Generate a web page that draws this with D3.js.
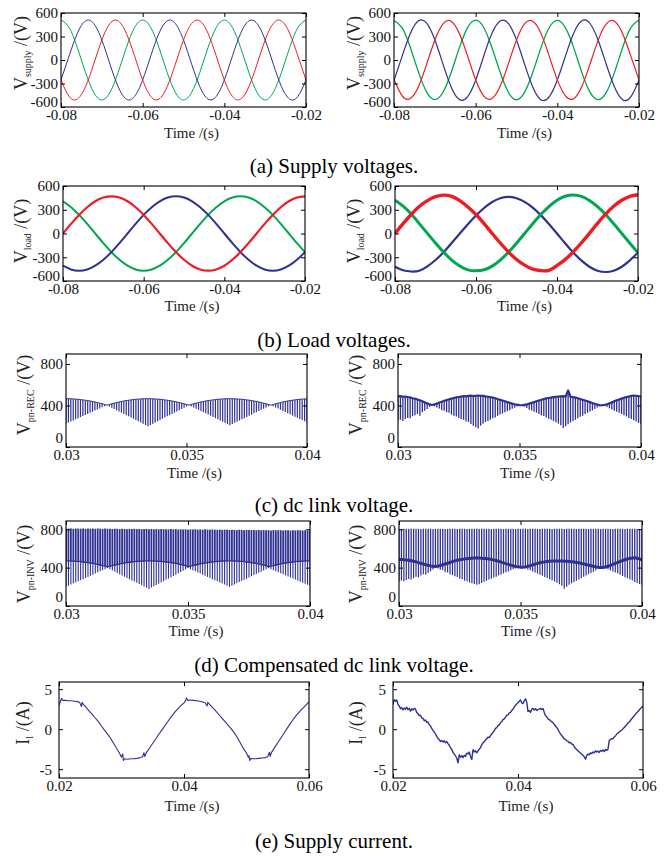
<!DOCTYPE html>
<html><head><meta charset="utf-8">
<script src="https://cdn.jsdelivr.net/npm/d3@7"></script>
<style>body{margin:0;background:#fff} text{font-family:"Liberation Serif","Times New Roman",Times,serif}</style>
</head><body>
<script>
// ---------------- DATA ----------------
// (a) supply voltages, sampled every 2 ms
const tGrid = [-0.080,-0.078,-0.076,-0.074,-0.072,-0.070,-0.068,-0.066,-0.064,-0.062,-0.060,-0.058,-0.056,-0.054,-0.052,-0.050,-0.048,-0.046,-0.044,-0.042,-0.040,-0.038,-0.036,-0.034,-0.032,-0.030,-0.028,-0.026,-0.024,-0.022,-0.020];
const supplyGreenL = [510,413,158,-158,-413,-510,-413,-158,158,413, 510,413,158,-158,-413,-510,-413,-158,158,413, 510,413,158,-158,-413,-510,-413,-158,158,413, 510];
const supplyBlueL  = [-255,54,341,499,466,255,-54,-341,-499,-466, -255,54,341,499,466,255,-54,-341,-499,-466, -255,54,341,499,466,255,-54,-341,-499,-466, -255];
const supplyRedL   = [-255,-466,-499,-341,-54,255,466,499,341,54, -255,-466,-499,-341,-54,255,466,499,341,54, -255,-466,-499,-341,-54,255,466,499,341,54, -255];
const supplyGreenR = [505,410,160,-155,-410,-505,-412,-160,155,410, 508,412,157,-157,-412,-508,-410,-157,158,412, 505,410,158,-158,-410,-506,-413,-158,160,413, 510];
const supplyBlueR  = [-260,50,338,500,470,258,-52,-345,-505,-470, -258,54,340,497,468,255,-56,-347,-508,-472, -256,52,341,500,466,252,-57,-344,-506,-470, -258];
const supplyRedR   = [-250,-458,-492,-338,-52,252,462,495,338,54, -252,-460,-490,-336,-50,255,465,496,340,52, -254,-458,-494,-338,-53,254,462,494,336,50, -252];

// (b) load voltages
const loadRedL   = [0,122,235,332,407,454,470,454,407,332,235,122,0,-122,-235,-332,-407,-454,-470,-454,-407,-332,-235,-122,0,122,235,332,407,454,470];
const loadBlueL  = [-407,-454,-470,-454,-407,-332,-235,-122,0,122,235,332,407,454,470,454,407,332,235,122,0,-122,-235,-332,-407,-454,-470,-454,-407,-332,-235];
const loadGreenL = [407,332,235,122,0,-122,-235,-332,-407,-454,-470,-454,-407,-332,-235,-122,0,122,235,332,407,454,470,454,407,332,235,122,0,-122,-235];
const loadRedR   = [0,125,240,340,415,465,485,468,415,335,240,125,0,-120,-232,-328,-400,-450,-468,-466,-405,-330,-232,-120,2,128,245,345,420,470,490];
const loadBlueR  = [-420,-465,-480,-470,-415,-335,-236,-120,0,118,228,322,398,445,462,446,400,328,232,120,0,-124,-240,-340,-420,-470,-486,-470,-420,-340,-240];
const loadGreenR = [420,345,245,125,2,-120,-235,-335,-410,-460,-472,-458,-412,-336,-236,-122,0,124,240,340,420,470,485,468,418,340,240,124,0,-124,-245];

// (c),(d) switching instants of the dc link pulses
const dcTimes = [0.0300,0.0301,0.0302,0.0303,0.0304,0.0305,0.0306,0.0307,0.0308,0.0309,
0.0310,0.0311,0.0312,0.0313,0.0314,0.0315,0.0316,0.0317,0.0318,0.0319,
0.0320,0.0321,0.0322,0.0323,0.0324,0.0325,0.0326,0.0327,0.0328,0.0329,
0.0330,0.0331,0.0332,0.0333,0.0334,0.0335,0.0336,0.0337,0.0338,0.0339,
0.0340,0.0341,0.0342,0.0343,0.0344,0.0345,0.0346,0.0347,0.0348,0.0349,
0.0350,0.0351,0.0352,0.0353,0.0354,0.0355,0.0356,0.0357,0.0358,0.0359,
0.0360,0.0361,0.0362,0.0363,0.0364,0.0365,0.0366,0.0367,0.0368,0.0369,
0.0370,0.0371,0.0372,0.0373,0.0374,0.0375,0.0376,0.0377,0.0378,0.0379,
0.0380,0.0381,0.0382,0.0383,0.0384,0.0385,0.0386,0.0387,0.0388,0.0389,
0.0390,0.0391,0.0392,0.0393,0.0394,0.0395,0.0396,0.0397,0.0398,0.0399,0.0400];

// (c) dc link voltage (pulse top / bottom)
const recTopL = [465,465,464,463,461,460,457,454,451,447,443,439,434,428,422,416,410,403,
410,416,422,428,434,439,443,447,451,454,457,460,461,463,464,465,465,
465,464,463,461,460,457,454,451,447,443,439,434,428,422,416,410,403,
410,416,422,428,434,439,443,447,451,454,457,460,461,463,464,465,465,
465,464,463,461,460,457,454,451,447,443,439,434,428,422,416,410,403,
410,416,422,428,434,439,443,447,451,454,457,460,461,463,464];
const recBotL = [225,235,246,256,267,277,288,298,309,319,330,340,351,361,372,382,393,403,
391,379,367,355,343,331,319,307,296,284,272,260,248,236,224,212,200,
212,224,236,248,260,272,284,296,307,319,331,343,355,367,379,391,403,
392,380,369,358,346,335,324,312,301,289,278,267,255,244,233,221,210,
221,233,244,255,267,278,289,301,312,324,335,346,358,369,380,392,403,
392,381,370,359,348,337,326,315,303,292,281,270,259,248,237];
const recTopR = [488,490,484,486,480,478,470,466,458,450,440,430,420,412,
405,
410,418,428,436,445,452,460,466,472,478,482,486,490,488,492,495,490,494,496,
492,494,488,484,480,476,470,462,455,448,440,432,425,418,412,408,404,
402,
406,410,418,425,432,440,448,455,462,468,472,476,480,484,486,488,490,486,
545,484,480,476,470,462,455,448,440,432,424,416,410,404,402,
406,412,420,430,440,450,458,466,474,480,486,492,496,494,490,488];
const recBotR = [255,262,250,270,280,276,296,305,318,300,335,350,365,385,
400,
392,380,372,355,350,335,330,312,300,295,280,268,262,245,240,222,205,190,178,
205,225,240,250,262,278,285,300,312,322,335,345,355,368,378,390,398,
402,
388,375,360,352,340,330,318,305,298,285,272,262,250,238,225,210,182,200,
220,236,250,262,278,292,302,318,330,342,352,365,380,392,400,
395,385,372,362,350,340,330,318,305,295,280,270,258,245,232,222];

// (d) compensated dc link voltage (pulse top / rectified level / pulse bottom)
const invTopL = [808,806,809,805,808,807,806,809,804,808,806,807,805,808,806,804,807,805,806,803,806,
804,801,805,803,800,804,802,805,801,803,800,802,804,801,803,800,802,799,803,801,
800,798,802,799,801,797,800,798,801,796,799,797,800,796,798,795,799,797,794,798,
796,794,797,793,796,795,792,796,794,791,795,793,790,794,792,791,793,790,792,789,
792,790,791,788,792,789,791,790,788,791,789,787,790,788,791,789,787,790,788,790];
const invMidL = [470,470,469,468,466,465,462,459,456,452,448,444,439,433,427,421,415,408,
415,421,427,433,439,444,448,452,456,459,462,465,466,468,469,470,470,
470,469,468,466,465,462,459,456,452,448,444,439,433,427,421,408,
415,421,427,433,439,444,448,452,456,459,462,465,466,468,469,470,470,
470,469,468,466,465,462,459,456,452,448,444,439,433,427,421,408,
415,421,427,433,439,444,448,452,456,459,462,465,466,468,469,470,470];
const invBotL = [200,211,223,234,246,257,269,280,292,303,315,326,338,349,361,372,384,395,
382,369,357,344,331,318,306,293,280,267,255,242,229,216,204,191,178,
192,205,219,232,246,259,273,286,300,314,327,341,354,368,381,395,
384,372,361,349,338,326,315,303,292,280,269,257,246,234,223,211,200,
212,224,237,249,261,273,285,298,310,322,334,346,358,371,383,395,
384,373,362,351,341,330,319,308,297,286,275,264,253,243,232,221,210];
const invTopR = [806,804,805,806,803,805,806,804,805,803,806,805,804,806,803,805,804,806,805,803,804,806,805,804,803,
805,806,804,803,805,806,804,805,803,806,804,805,806,803,804,805,806,804,803,805,806,804,805,803,806,
804,805,806,803,804,805,806,804,803,805,806,804,805,803,806,804,805,806,803,804,805,806,804,803,805,
806,804,805,803,806,804,805,806,803,804,805,806,804,803,805,806,804,805,803,806,804,805,806,803,804,805];
const invMidR = [484,486,482,480,476,472,466,460,452,445,438,430,424,418,414,412,
416,422,430,438,446,454,462,470,476,482,486,490,494,496,498,500,502,500,
498,496,494,490,486,480,474,466,458,450,442,434,426,418,412,408,405,404,
408,414,420,428,436,444,450,456,460,464,466,468,470,470,468,468,466,466,
464,462,458,454,450,444,438,432,426,420,414,408,404,402,402,
406,414,424,434,444,454,464,474,482,490,496,500,502,498,490,480];
const invBotR = [256,265,258,270,282,276,290,305,298,318,330,325,345,362,380,405,
392,378,372,352,348,330,322,310,302,285,278,262,258,245,238,230,222,228,
240,252,262,275,285,298,305,318,328,340,352,360,372,382,390,398,404,404,
392,380,372,360,350,338,325,315,302,292,280,268,255,242,228,212,180,200,
222,236,250,262,276,290,305,318,332,345,358,370,385,396,402,
392,382,370,360,348,338,325,312,300,290,278,265,250,240,228,222];

// (e) supply current
const currentL = [[0.0200,3.0],[0.0202,3.4],[0.0204,3.85],[0.0206,3.6],[0.0210,3.6],[0.0215,3.55],[0.0220,3.55],[0.0225,3.5],[0.0230,3.45],[0.0233,3.35],
[0.0235,3.0],[0.0236,2.85],[0.0237,3.35],[0.0239,3.1],[0.0243,2.75],[0.0248,2.3],[0.0253,1.85],[0.0258,1.4],[0.0263,0.95],[0.0268,0.4],
[0.0273,-0.15],[0.0278,-0.65],[0.0283,-1.2],[0.0288,-1.85],[0.0293,-2.5],[0.0297,-3.05],[0.0300,-3.5],[0.0301,-3.25],[0.0302,-3.1],[0.0303,-3.9],
[0.0305,-3.7],[0.0310,-3.75],[0.0315,-3.7],[0.0320,-3.7],[0.0325,-3.65],[0.0330,-3.55],[0.0334,-3.45],[0.0335,-3.1],[0.0336,-2.95],[0.0337,-3.4],
[0.0340,-2.9],[0.0345,-2.35],[0.0350,-1.75],[0.0355,-1.2],[0.0360,-0.6],[0.0365,-0.05],[0.0370,0.5],[0.0375,1.05],[0.0380,1.6],[0.0385,2.1],
[0.0390,2.55],[0.0395,2.95],[0.0400,3.3],[0.0402,3.5],[0.0404,3.9],[0.0406,3.6],[0.0410,3.65],[0.0415,3.6],[0.0420,3.55],[0.0425,3.5],
[0.0430,3.4],[0.0434,3.3],[0.0436,3.0],[0.0437,2.9],[0.0438,3.35],[0.0441,3.1],[0.0445,2.75],[0.0450,2.35],[0.0455,1.9],[0.0460,1.45],
[0.0465,1.0],[0.0470,0.55],[0.0475,0.1],[0.0480,-0.4],[0.0485,-1.0],[0.0490,-1.7],[0.0495,-2.4],[0.0500,-3.0],[0.0503,-3.5],[0.0504,-3.3],
[0.0505,-3.9],[0.0507,-3.65],[0.0510,-3.7],[0.0515,-3.7],[0.0520,-3.65],[0.0525,-3.6],[0.0530,-3.55],[0.0534,-3.45],[0.0536,-3.0],[0.0537,-2.9],
[0.0538,-3.4],[0.0540,-2.9],[0.0545,-2.3],[0.0550,-1.7],[0.0555,-1.1],[0.0560,-0.5],[0.0565,0.1],[0.0570,0.7],[0.0575,1.25],[0.0580,1.75],
[0.0585,2.2],[0.0590,2.6],[0.0595,3.0],[0.0600,3.4]];
const currentTimesR = [0.0200,0.0202,0.0204,0.0206,0.0208,0.0210,0.0212,0.0214,0.0216,0.0218,
0.0220,0.0222,0.0224,0.0226,0.0228,0.0230,0.0232,0.0234,0.0236,0.0238,
0.0240,0.0242,0.0244,0.0246,0.0248,0.0250,0.0252,0.0254,0.0256,0.0258,
0.0260,0.0262,0.0264,0.0266,0.0268,0.0270,0.0272,0.0274,0.0276,0.0278,
0.0280,0.0282,0.0284,0.0286,0.0288,0.0290,0.0292,0.0294,0.0296,0.0298,
0.0300,0.0302,0.0304,0.0306,0.0308,0.0310,0.0312,0.0314,0.0316,0.0318,
0.0320,0.0322,0.0324,0.0326,0.0328,0.0330,0.0332,0.0334,0.0336,0.0338,
0.0340,0.0342,0.0344,0.0346,0.0348,0.0350,0.0352,0.0354,0.0356,0.0358,
0.0360,0.0362,0.0364,0.0366,0.0368,0.0370,0.0372,0.0374,0.0376,0.0378,
0.0380,0.0382,0.0384,0.0386,0.0388,0.0390,0.0392,0.0394,0.0396,0.0398,
0.0400,0.0402,0.0404,0.0406,0.0408,0.0410,0.0412,0.0414,0.0416,0.0418,
0.0420,0.0422,0.0424,0.0426,0.0428,0.0430,0.0432,0.0434,0.0436,0.0438,
0.0440,0.0442,0.0444,0.0446,0.0448,0.0450,0.0452,0.0454,0.0456,0.0458,
0.0460,0.0462,0.0464,0.0466,0.0468,0.0470,0.0472,0.0474,0.0476,0.0478,
0.0480,0.0482,0.0484,0.0486,0.0488,0.0490,0.0492,0.0494,0.0496,0.0498,
0.0500,0.0502,0.0504,0.0506,0.0508,0.0510,0.0512,0.0514,0.0516,0.0518,
0.0520,0.0522,0.0524,0.0526,0.0528,0.0530,0.0532,0.0534,0.0536,0.0538,
0.0540,0.0542,0.0544,0.0546,0.0548,0.0550,0.0552,0.0554,0.0556,0.0558,
0.0560,0.0562,0.0564,0.0566,0.0568,0.0570,0.0572,0.0574,0.0576,0.0578,
0.0580,0.0582,0.0584,0.0586,0.0588,0.0590,0.0592,0.0594,0.0596,0.0598,0.0600];
const currentR = [3.1,3.7,3.5,3.65,3.1,2.9,2.55,2.7,2.4,2.65,
2.5,2.75,2.45,2.6,2.25,2.55,2.4,2.6,2.5,2.1,
1.95,1.7,1.75,1.4,1.35,1.05,1.15,0.85,0.9,0.55,
0.4,0.1,-0.15,-0.35,-0.6,-0.9,-1.15,-1.3,-1.55,-1.4,
-1.6,-1.45,-1.7,-1.55,-1.8,-2.0,-2.3,-2.55,-2.9,-3.1,
-3.35,-3.6,-4.2,-3.2,-3.5,-3.3,-3.55,-3.25,-3.4,-3.0,
-3.1,-2.85,-3.4,-3.8,-2.55,-2.85,-2.7,-2.95,-2.7,-2.5,
-2.3,-1.95,-1.7,-1.55,-1.35,-1.2,-1.0,-1.05,-0.8,-0.6,
-0.4,-0.2,0.1,0.2,0.45,0.55,0.8,0.95,1.2,1.3,
1.5,1.75,1.8,2.05,2.1,2.35,2.5,2.75,3.0,3.15,
3.3,3.5,3.65,3.3,3.2,3.55,3.8,3.4,2.2,2.35,
2.1,2.5,2.6,2.4,2.55,2.35,2.45,2.5,2.6,2.45,
2.6,2.1,1.7,1.55,1.3,1.2,1.05,0.95,0.8,0.6,
0.4,0.2,0.0,-0.35,-0.6,-0.8,-1.0,-1.2,-1.3,-1.45,
-1.5,-1.7,-1.65,-1.85,-1.9,-2.2,-2.4,-2.55,-2.7,-2.85,
-3.0,-3.1,-3.3,-3.45,-3.75,-3.3,-3.1,-3.2,-2.95,-3.05,
-2.85,-2.95,-2.7,-2.85,-2.75,-2.9,-2.65,-2.75,-2.6,-2.8,
-2.55,-2.65,-2.5,-1.4,-1.3,-1.15,-1.2,-0.95,-0.85,-0.6,
-0.5,-0.35,-0.2,-0.1,0.05,0.2,0.4,0.55,0.8,0.9,
1.1,1.3,1.5,1.65,1.9,2.05,2.2,2.4,2.6,2.75,2.9];

// tick values
const ticksXab = [-0.08,-0.06,-0.04,-0.02];
const ticksYab = [-600,-300,0,300,600];
const ticksXcd = [0.03,0.035,0.04];
const ticksYcd = [0,400,800];
const ticksXe = [0.02,0.04,0.06];
const ticksYe = [-5,0,5];
const captions = ["(a) Supply voltages.","(b) Load voltages.","(c) dc link voltage.","(d) Compensated dc link voltage.","(e) Supply current."];

// ---------------- DRAWING ----------------
const F = '"Liberation Serif","Times New Roman",Times,serif';
const BLUE = '#2e3192', RED = '#ed1c24', GREEN = '#00a651';
const svg = d3.select('body').append('svg').attr('width',672).attr('height',857).style('display','block');

let clipN = 0;
function makePanel(o){
  const x = d3.scaleLinear().domain(o.xd).range([o.x0,o.x1]);
  const y = d3.scaleLinear().domain(o.yd).range([o.y1,o.y0]);
  const id = 'clip'+(clipN++);
  svg.append('clipPath').attr('id',id).append('rect')
    .attr('x',o.x0).attr('y',o.y0).attr('width',o.x1-o.x0).attr('height',o.y1-o.y0);
  const g = svg.append('g').attr('clip-path',`url(#${id})`);
  return {x,y,g,o};
}
function styleAxis(a, keepText){
  a.select('.domain').remove();
  a.attr('font-family',F).attr('font-size',15);
  a.selectAll('line').attr('stroke','#000');
  if (keepText) a.selectAll('text').attr('fill','#111');
  else a.selectAll('text').remove();
  return a;
}
function finishPanel(p){
  const {x,y,o} = p;
  const fmt = d => String(d);
  styleAxis(svg.append('g').attr('transform',`translate(0,${o.y1})`)
    .call(d3.axisBottom(x).tickValues(o.xt).tickFormat(fmt).tickSizeInner(-4).tickSizeOuter(0).tickPadding(2.5)), true);
  styleAxis(svg.append('g').attr('transform',`translate(0,${o.y0})`)
    .call(d3.axisTop(x).tickValues(o.xt).tickSizeInner(-4).tickSizeOuter(0)), false);
  const left = styleAxis(svg.append('g').attr('transform',`translate(${o.x0},0)`)
    .call(d3.axisLeft(y).tickValues(o.yt).tickFormat(fmt).tickSizeInner(-4).tickSizeOuter(0).tickPadding(o.ypad)), true);
  // lowest label sits on the corner: lift it a little so it does not collide with the time labels
  if (o.liftLow) left.selectAll('.tick').filter(d => d === o.yt[0]).select('text').attr('y', -o.liftLow);
  styleAxis(svg.append('g').attr('transform',`translate(${o.x1},0)`)
    .call(d3.axisRight(y).tickValues(o.yt).tickSizeInner(-4).tickSizeOuter(0)), false);
  svg.append('rect').attr('x',o.x0).attr('y',o.y0).attr('width',o.x1-o.x0).attr('height',o.y1-o.y0)
    .attr('fill','none').attr('stroke','#000').attr('stroke-width',1.1);
  svg.append('text').attr('x',(o.x0+o.x1)/2+8).attr('y',o.xly).attr('text-anchor','middle')
    .attr('font-family',F).attr('font-size',15).attr('fill','#222').text('Time /(s)');
  const t = svg.append('text').attr('transform',`translate(${o.ylx},${o.yly}) rotate(-90)`)
    .attr('text-anchor','middle').attr('font-family',F).attr('font-size',18).attr('fill','#222');
  t.append('tspan').text(o.ymain);
  t.append('tspan').attr('font-size',10).attr('dy',4).text(o.ysub);
  t.append('tspan').attr('dy',-4).text(' /('+o.yunit+')');
}
function curve(p, ts, vs, color, w, c){
  const line = d3.line().x((d,i)=>p.x(ts[i])).y(d=>p.y(d)).curve(c || d3.curveNatural);
  p.g.append('path').attr('d',line(vs)).attr('fill','none').attr('stroke',color).attr('stroke-width',w).attr('stroke-linejoin','round');
}
function bars(p, lo, hi, color, w){
  p.g.append('g').selectAll('line').data(dcTimes).join('line')
    .attr('x1',d=>p.x(d)).attr('x2',d=>p.x(d))
    .attr('y1',(d,i)=>p.y(lo[i])).attr('y2',(d,i)=>p.y(hi[i]))
    .attr('stroke',color).attr('stroke-width',w);
}

const common = {
  ab:{xd:[-0.08,-0.02], yd:[-600,600], xt:ticksXab, yt:ticksYab, ypad:3, liftLow:5},
  cd:{xd:[0.03,0.04], xt:ticksXcd, yt:ticksYcd, ypad:3, liftLow:9},
  e:{xd:[0.02,0.06], yd:[-6.1,5.9], xt:ticksXe, yt:ticksYe, ypad:7, liftLow:0}
};

// (a)
const aL = makePanel({...common.ab, x0:61, x1:306, y0:13, y1:107, xly:138, ylx:27, yly:53, ymain:'V', ysub:'supply', yunit:'V'});
curve(aL, tGrid, supplyGreenL, GREEN, 1);
curve(aL, tGrid, supplyBlueL, BLUE, 1);
curve(aL, tGrid, supplyRedL, RED, 1);
finishPanel(aL);
const aR = makePanel({...common.ab, x0:394, x1:639, y0:13, y1:107, xly:138, ylx:360, yly:53, ymain:'V', ysub:'supply', yunit:'V'});
curve(aR, tGrid, supplyGreenR, GREEN, 1.3);
curve(aR, tGrid, supplyBlueR, BLUE, 1.2);
curve(aR, tGrid, supplyRedR, RED, 1.2);
finishPanel(aR);

// (b)
const bL = makePanel({...common.ab, x0:63, x1:305, y0:186, y1:281, xly:311, ylx:27, yly:231, ymain:'V', ysub:'load', yunit:'V'});
curve(bL, tGrid, loadGreenL, GREEN, 2);
curve(bL, tGrid, loadBlueL, BLUE, 2);
curve(bL, tGrid, loadRedL, RED, 2.2);
finishPanel(bL);
const bR = makePanel({...common.ab, x0:395, x1:638, y0:186, y1:281, xly:311, ylx:360, yly:231, ymain:'V', ysub:'load', yunit:'V'});
curve(bR, tGrid, loadBlueR, BLUE, 2.2);
curve(bR, tGrid, loadGreenR, GREEN, 3);
curve(bR, tGrid, loadRedR, RED, 3.4);
finishPanel(bR);

// (c)
const cL = makePanel({...common.cd, yd:[0,896], x0:66, x1:307, y0:354, y1:447, xly:478, ylx:30, yly:395, ymain:'V', ysub:'pn-REC', yunit:'V'});
bars(cL, recBotL, recTopL, BLUE, 1.2);
curve(cL, dcTimes, recTopL, BLUE, 1, d3.curveLinear);
finishPanel(cL);
const cR = makePanel({...common.cd, yd:[0,896], x0:398, x1:641, y0:354, y1:447, xly:478, ylx:362, yly:395, ymain:'V', ysub:'pn-REC', yunit:'V'});
bars(cR, recBotR, recTopR, BLUE, 1.3);
curve(cR, dcTimes, recTopR, BLUE, 2.2, d3.curveLinear);
finishPanel(cR);

// (d)
const dL = makePanel({...common.cd, yd:[0,886], x0:66, x1:310, y0:521, y1:606, xly:636, ylx:30, yly:564, ymain:'V', ysub:'pn-INV', yunit:'V'});
bars(dL, invMidL, invTopL, BLUE, 1.8);
bars(dL, invBotL, invMidL, BLUE, 1.1);
curve(dL, dcTimes, invMidL, BLUE, 1.4, d3.curveLinear);
finishPanel(dL);
const dR = makePanel({...common.cd, yd:[0,886], x0:399, x1:642, y0:521, y1:606, xly:636, ylx:362, yly:564, ymain:'V', ysub:'pn-INV', yunit:'V'});
bars(dR, invMidR, invTopR, BLUE, 1.3);
bars(dR, invBotR, invMidR, BLUE, 1.2);
curve(dR, dcTimes, invMidR, BLUE, 3, d3.curveLinear);
finishPanel(dR);

// (e)
const eL = makePanel({...common.e, x0:59, x1:309, y0:682, y1:778, xly:811, ylx:29, yly:723, ymain:'I', ysub:'l', yunit:'A'});
curve(eL, currentL.map(d=>d[0]), currentL.map(d=>d[1]), BLUE, 1.1, d3.curveLinear);
finishPanel(eL);
const eR = makePanel({...common.e, x0:393, x1:643, y0:682, y1:778, xly:811, ylx:362, yly:723, ymain:'I', ysub:'l', yunit:'A'});
curve(eR, currentTimesR, currentR, BLUE, 1.4, d3.curveLinear);
finishPanel(eR);

// captions
const capY = [173, 347, 512, 672, 848];
captions.forEach((c,i)=>{
  svg.append('text').attr('x',334).attr('y',capY[i]).attr('text-anchor','middle')
    .attr('font-family',F).attr('font-size',21).attr('fill','#000').text(c);
});
</script>
</body></html>
